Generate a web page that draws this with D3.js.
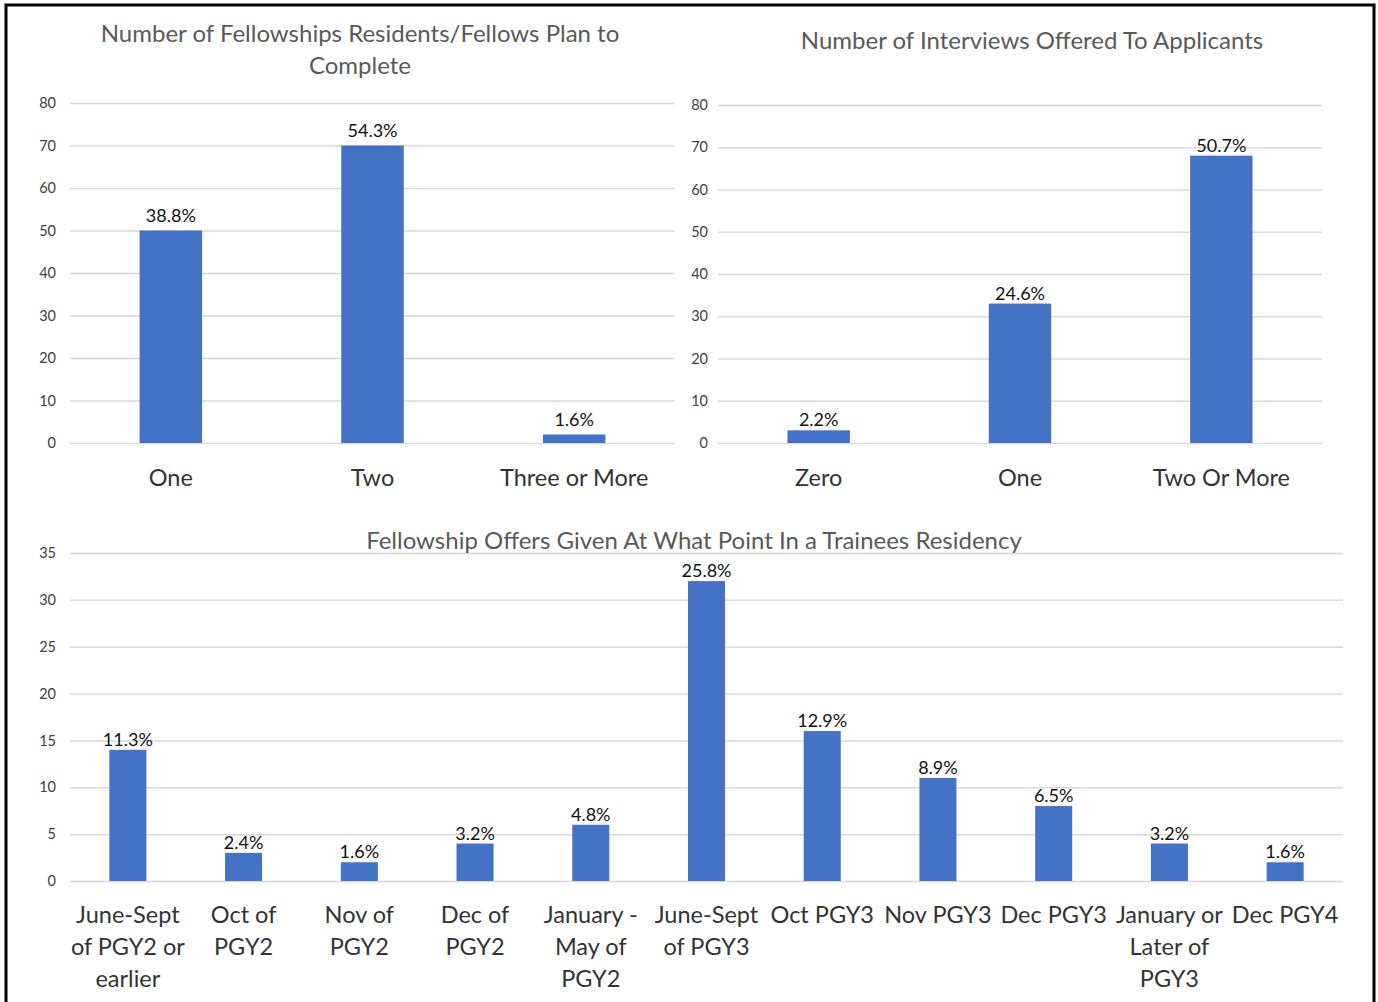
<!DOCTYPE html>
<html>
<head>
<meta charset="utf-8">
<script src="https://cdn.jsdelivr.net/npm/d3@7"></script>
<style>
  html, body { margin: 0; padding: 0; background: #fff; }
  svg { display: block; font-family: Lato, "Open Sans", sans-serif; }
</style>
</head>
<body>
<svg id="chart" width="1378" height="1002"></svg>
<script>
// Survey results: bar heights are respondent counts, labels are shares of all responses.
const planCategories = ["One", "Two", "Three or More"];
const planCounts = [50, 70, 2];
const planLabels = ["38.8%", "54.3%", "1.6%"];

const interviewCategories = ["Zero", "One", "Two Or More"];
const interviewCounts = [3, 33, 68];
const interviewLabels = ["2.2%", "24.6%", "50.7%"];

const offerCategories = [
  ["June-Sept", "of PGY2 or", "earlier"],
  ["Oct of", "PGY2"],
  ["Nov of", "PGY2"],
  ["Dec of", "PGY2"],
  ["January -", "May of", "PGY2"],
  ["June-Sept", "of PGY3"],
  ["Oct PGY3"],
  ["Nov PGY3"],
  ["Dec PGY3"],
  ["January or", "Later of", "PGY3"],
  ["Dec PGY4"]
];
const offerCounts = [14, 3, 2, 4, 6, 32, 16, 11, 8, 4, 2];
const offerLabels = ["11.3%", "2.4%", "1.6%", "3.2%", "4.8%", "25.8%", "12.9%", "8.9%", "6.5%", "3.2%", "1.6%"];

const planTicks = [0, 10, 20, 30, 40, 50, 60, 70, 80];
const offerTicks = [0, 5, 10, 15, 20, 25, 30, 35];

const BAR = "#4472C4";
const GRID = "#d9d9d9";
const svg = d3.select("#chart");

// outer frame
svg.append("rect")
  .attr("x", 6).attr("y", 5).attr("width", 1368).attr("height", 1000)
  .attr("fill", "none").attr("stroke", "#000").attr("stroke-width", 3);

function panel(opts) {
  const g = svg.append("g");
  const x = d3.scaleBand()
    .domain(d3.range(opts.counts.length))
    .range([opts.x0, opts.x1])
    .paddingInner(opts.pad).paddingOuter(opts.pad / 2);
  const y = d3.scaleLinear().domain([0, opts.max]).range([opts.yBase, opts.yTop]);

  // gridlines and tick labels
  const yAxis = d3.axisLeft(y).tickValues(opts.ticks)
    .tickSize(-(opts.x1 - opts.x0)).tickPadding(opts.tickPad);
  const ax = g.append("g").attr("transform", `translate(${opts.x0},0)`).call(yAxis);
  ax.select(".domain").remove();
  ax.selectAll(".tick line").attr("stroke", GRID).attr("stroke-width", 1.5);
  ax.selectAll(".tick text")
    .attr("fill", "#404040").attr("font-size", 14.5).attr("font-family", "Lato, sans-serif");

  // bars
  g.selectAll("rect.bar").data(opts.counts).join("rect")
    .attr("class", "bar")
    .attr("x", (d, i) => x(i))
    .attr("width", x.bandwidth())
    .attr("y", d => y(d))
    .attr("height", d => y(0) - y(d))
    .attr("fill", BAR);

  // value labels
  g.selectAll("text.val").data(opts.counts).join("text")
    .attr("class", "val")
    .attr("x", (d, i) => x(i) + x.bandwidth() / 2)
    .attr("y", d => y(d) - opts.valGap)
    .attr("text-anchor", "middle")
    .attr("font-size", 18).attr("fill", "#111")
    .text((d, i) => opts.labels[i]);

  // category labels
  g.selectAll("text.cat").data(opts.categories).join("text")
    .attr("class", "cat")
    .attr("x", (d, i) => x(i) + x.bandwidth() / 2)
    .attr("y", opts.catY)
    .attr("text-anchor", "middle")
    .attr("font-size", 23.5).attr("fill", "#333")
    .each(function (d) {
      const lines = Array.isArray(d) ? d : [d];
      d3.select(this).selectAll("tspan").data(lines).join("tspan")
        .attr("x", d3.select(this).attr("x"))
        .attr("dy", (l, j) => j === 0 ? 0 : 32)
        .text(l => l);
    });

  // title
  const t = g.append("text")
    .attr("x", opts.titleX).attr("y", opts.titleY)
    .attr("text-anchor", "middle")
    .attr("font-size", 24).attr("fill", "#595959");
  t.selectAll("tspan").data(opts.title).join("tspan")
    .attr("x", opts.titleX)
    .attr("dy", (l, j) => j === 0 ? 0 : 32)
    .text(l => l);
}

panel({
  categories: planCategories, counts: planCounts, labels: planLabels,
  x0: 70, x1: 675, yBase: 443, yTop: 103, max: 80, ticks: planTicks, tickPad: 14,
  pad: 0.69, catY: 486, valGap: 9,
  title: ["Number of Fellowships Residents/Fellows Plan to", "Complete"], titleX: 360, titleY: 42
});

panel({
  categories: interviewCategories, counts: interviewCounts, labels: interviewLabels,
  x0: 718, x1: 1322, yBase: 443, yTop: 105, max: 80, ticks: planTicks, tickPad: 10,
  pad: 0.69, catY: 486, valGap: 4,
  title: ["Number of Interviews Offered To Applicants"], titleX: 1032, titleY: 49
});

panel({
  categories: offerCategories, counts: offerCounts, labels: offerLabels,
  x0: 70, x1: 1343, yBase: 881, yTop: 553, max: 35, ticks: offerTicks, tickPad: 14,
  pad: 0.68, catY: 923, valGap: 4,
  title: ["Fellowship Offers Given At What Point In a Trainees Residency"], titleX: 694, titleY: 549
});
</script>
</body>
</html>
